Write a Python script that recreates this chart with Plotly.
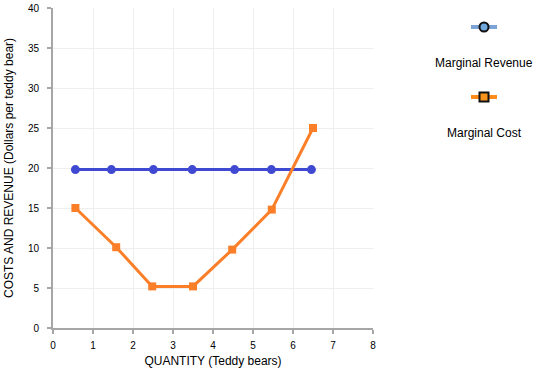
import plotly.graph_objects as go

mr_x = [0.56, 1.46, 2.51, 3.48, 4.54, 5.46, 6.46]
mr_y = [19.8, 19.8, 19.8, 19.8, 19.8, 19.8, 19.8]
mc_x = [0.56, 1.58, 2.48, 3.5, 4.48, 5.47, 6.5]
mc_y = [15.0, 10.1, 5.2, 5.2, 9.8, 14.8, 25.0]
x_ticks = [0, 1, 2, 3, 4, 5, 6, 7, 8]
y_ticks = [0, 5, 10, 15, 20, 25, 30, 35, 40]

W, H = 543, 378
L, R, T, B = 53, 170, 8, 50
pw, ph = W - L - R, H - T - B

def px(x):
    return (x - L) / pw

def py(y):
    return (H - B - y) / ph

fig = go.Figure()
fig.add_trace(go.Scatter(x=mr_x, y=mr_y, mode="lines+markers", name="Marginal Revenue",
                         line=dict(color="#4049d1", width=3),
                         marker=dict(symbol="circle", size=9, color="#4049d1")))
fig.add_trace(go.Scatter(x=mc_x, y=mc_y, mode="lines+markers", name="Marginal Cost",
                         line=dict(color="#fb7f28", width=3),
                         marker=dict(symbol="square", size=8, color="#fb7f28")))

font = "Liberation Sans, Arial, sans-serif"
axis_common = dict(showline=True, linecolor="#a6a6a6", linewidth=2, gridcolor="#eeeeee",
                   gridwidth=1, ticks="outside", ticklen=4, tickcolor="#a6a6a6", tickwidth=2,
                   tickfont=dict(size=10, color="#000", family=font), zeroline=False,
                   fixedrange=True, automargin=False)
fig.update_xaxes(range=[0, 8], tickvals=x_ticks, ticklabelstandoff=3,
                 title=dict(text="QUANTITY (Teddy bears)",
                 font=dict(size=12, color="#000", family=font), standoff=7), **axis_common)
fig.update_yaxes(range=[0, 40], tickvals=y_ticks, ticklabelstandoff=6,
                 title=dict(text="COSTS AND REVENUE (Dollars per teddy bear)",
                 font=dict(size=12, color="#000", family=font), standoff=12), **axis_common)

shapes = []
annotations = []
legend = [
    ("Marginal Revenue", 27, 63, "#7ba3d6", "#6fa8dc", "circle"),
    ("Marginal Cost", 97, 133, "#ff8c1a", "#f7941d", "rect"),
]
cx = 484
for name, iy, ty, lc, fc, kind in legend:
    shapes.append(dict(type="line", xref="paper", yref="paper", x0=px(cx - 13), x1=px(cx + 13),
                       y0=py(iy), y1=py(iy), line=dict(color=lc, width=4)))
    r = 4.5
    shapes.append(dict(type=kind, xref="paper", yref="paper", x0=px(cx - r), x1=px(cx + r),
                       y0=py(iy + r), y1=py(iy - r), fillcolor=fc, line=dict(color="#111", width=2)))
    annotations.append(dict(text=name, xref="paper", yref="paper", x=px(cx), y=py(ty),
                            showarrow=False, xanchor="center", yanchor="middle",
                            font=dict(size=12, color="#000", family=font)))

fig.update_layout(width=W, height=H, margin=dict(l=L, r=R, t=T, b=B),
                  plot_bgcolor="white", paper_bgcolor="white", showlegend=False,
                  shapes=shapes, annotations=annotations)
fig.write_html("out.html")
